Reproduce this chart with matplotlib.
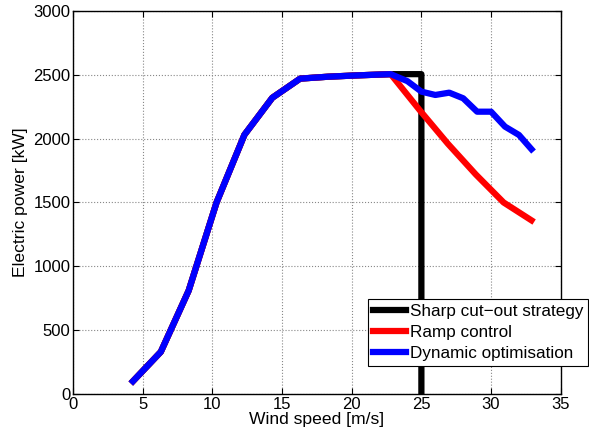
import numpy as np
import matplotlib.pyplot as plt

plt.rcParams['font.family'] = ['Liberation Sans', 'DejaVu Sans']

# power curve below rated (shared by all strategies)
ws_low = [4.3, 6.3, 8.3, 10.3, 12.3, 14.3, 16.3, 18.3, 20.3, 22.8]
p_low = [100, 330, 810, 1500, 2030, 2320, 2470, 2485, 2495, 2505]

# sharp cut-out
ws_sharp = ws_low + [25.0, 25.0]
p_sharp = p_low + [2505, -200]

# ramp control
ws_ramp = ws_low + [24.9, 26.9, 28.9, 30.9, 32.9]
p_ramp = p_low + [2220, 1960, 1720, 1500, 1360]

# dynamic optimisation
ws_dyn = ws_low + [24.0, 25.0, 26.0, 27.0, 28.0, 29.0, 30.0, 31.0, 32.0, 32.9]
p_dyn = p_low + [2450, 2368, 2342, 2360, 2316, 2211, 2211, 2094, 2029, 1917]

fs_tick = 12
fs_label = 12.6
fs_leg = 12.3

fig = plt.figure(figsize=(5.89, 4.38), dpi=100)
ax = fig.add_axes([0.124, 0.1005, 0.828, 0.8745])

ax.plot(ws_sharp, p_sharp, color='black', lw=4.5, label='Sharp cut\u2212out strategy')
ax.plot(ws_ramp, p_ramp, color='red', lw=4.5, label='Ramp control')
ax.plot(ws_dyn, p_dyn, color='blue', lw=4.5, label='Dynamic optimisation')

ax.set_xlim(0, 35)
ax.set_ylim(0, 3000)
ax.set_xticks(np.arange(0, 36, 5))
ax.set_yticks(np.arange(0, 3001, 500))
ax.grid(True, color='#888888', linestyle=':', linewidth=0.8)
ax.tick_params(direction='in', labelsize=fs_tick, length=4, top=True, right=True, pad=2)
for s in ax.spines.values():
    s.set_linewidth(1.0)
ax.set_xlabel('Wind speed [m/s]', fontsize=fs_label, labelpad=0)
ax.set_ylabel('Electric power [kW]', fontsize=fs_label, labelpad=4)

leg = fig.legend(loc='upper left', bbox_to_anchor=(368 / 589, 1 - 299 / 438),
                 fontsize=fs_leg, fancybox=False, framealpha=1, edgecolor='black',
                 handlelength=1.9, handletextpad=0.25, borderpad=0.3,
                 labelspacing=0.35, borderaxespad=0)
leg.get_frame().set_linewidth(0.8)

fig.savefig('out.png', dpi=100)
